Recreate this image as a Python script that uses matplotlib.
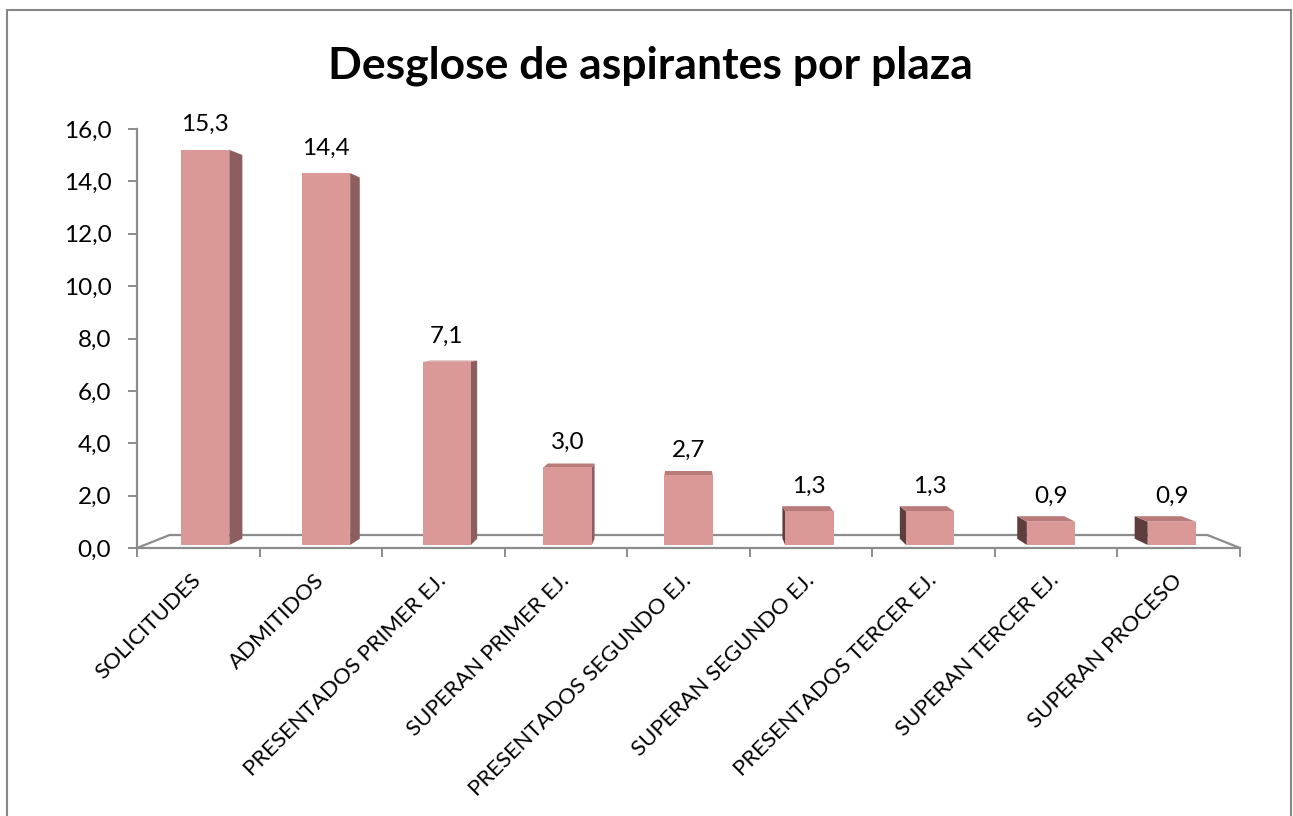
import matplotlib
matplotlib.use('Agg')
import matplotlib.pyplot as plt
from matplotlib.patches import Polygon, Rectangle

plt.rcParams['font.family'] = ['Lato', 'DejaVu Sans']

# datos del grafico
categorias = ['SOLICITUDES', 'ADMITIDOS', 'PRESENTADOS PRIMER EJ.', 'SUPERAN PRIMER EJ.',
              'PRESENTADOS SEGUNDO EJ.', 'SUPERAN SEGUNDO EJ.', 'PRESENTADOS TERCER EJ.',
              'SUPERAN TERCER EJ.', 'SUPERAN PROCESO']
valores = [15.3, 14.4, 7.1, 3.0, 2.7, 1.3, 1.3, 0.9, 0.9]
yticks = [0, 2, 4, 6, 8, 10, 12, 14, 16]

# colores
cara = '#DA9896'
lado_der = '#8C5F5E'
lado_izq = '#5E3E3D'
techo = '#B97B79'
gris = '#8C8C8C'

# perspectiva (punto de fuga en coordenadas de datos)
vx, vy = 4.0, 8.4
s_front = 0.986
s_back = 0.958
s_floor = 0.941
ancho = 0.40


def proy(x, y, s):
    # proyectar un punto hacia el punto de fuga
    return vx + s * (x - vx), vy + s * (y - vy)


fig = plt.figure(figsize=(12.93, 8.16), dpi=100)
ax = fig.add_axes([137 / 1293, 268 / 816, 1103 / 1293, 419 / 816])
ax.set_xlim(-0.5, len(categorias) - 0.5)
ax.set_ylim(0, 16)

# suelo
xa, xb = -0.5, len(categorias) - 0.5
bl = proy(xa, 0, s_floor)
br = proy(xb, 0, s_floor)
ax.plot([xa, bl[0], br[0], xb], [0, bl[1], br[1], 0], color=gris, lw=1.6, zorder=1,
        clip_on=False, solid_joinstyle='miter')

# barras
for i, v in enumerate(valores):
    x0, x1 = i - ancho / 2, i + ancho / 2
    f0 = proy(x0, 0, s_front)
    f1 = proy(x1, v, s_front)
    b0 = proy(x0, 0, s_back)
    b1 = proy(x1, v, s_back)
    # lado visible
    if f1[0] < vx - 1e-6:
        pts = [(f1[0], f0[1]), (f1[0], f1[1]), (b1[0], b1[1]), (b1[0], b0[1])]
        ax.add_patch(Polygon(pts, closed=True, fc=lado_der, ec='none', zorder=2))
    elif f0[0] > vx + 1e-6:
        pts = [(f0[0], f0[1]), (f0[0], f1[1]), (b0[0], b1[1]), (b0[0], b0[1])]
        ax.add_patch(Polygon(pts, closed=True, fc=lado_izq, ec='none', zorder=2))
    # techo
    if v < vy:
        pts = [(f0[0], f1[1]), (f1[0], f1[1]), (b1[0], b1[1]), (b0[0], b1[1])]
        ax.add_patch(Polygon(pts, closed=True, fc=techo, ec='none', zorder=2))
    ax.bar((f0[0] + f1[0]) / 2, f1[1] - f0[1], width=f1[0] - f0[0], bottom=f0[1],
           color=cara, edgecolor='none', zorder=3)
    ax.annotate(f'{v:.1f}'.replace('.', ','), xy=((f0[0] + f1[0]) / 2, f1[1]),
                xytext=(0, 13.5), textcoords='offset points', ha='center', va='baseline',
                fontsize=17.5, color='black', zorder=4)

# ejes
for lado in ['top', 'right']:
    ax.spines[lado].set_visible(False)
ax.spines['left'].set_color(gris)
ax.spines['bottom'].set_color(gris)
ax.spines['left'].set_linewidth(1.6)
ax.spines['bottom'].set_linewidth(1.6)
ax.set_yticks(yticks)
ax.set_yticklabels([f'{t:.1f}'.replace('.', ',') for t in yticks])
ax.tick_params(axis='y', length=6.5, width=1.4, color=gris, pad=12, labelsize=17.5)
ax.set_xticks(range(len(categorias)))
ax.set_xticks([i - 0.5 for i in range(len(categorias) + 1)], minor=True)
ax.set_xticklabels(categorias, rotation=45, ha='right', rotation_mode='anchor', va='center')
ax.tick_params(axis='x', which='major', length=0, pad=21, labelsize=16)
ax.tick_params(axis='x', which='minor', length=6.5, width=1.4, color=gris)
ax.set_facecolor('none')

# titulo
fig.text(0.5027, 1 - 79 / 816, 'Desglose de aspirantes por plaza', ha='center', va='baseline',
         fontsize=32, fontweight='bold')

# marco
fig.patches.append(Rectangle((7 / 1293, -0.02), 1284 / 1293, 806 / 816 + 0.02,
                             transform=fig.transFigure, fill=False, ec='#878787', lw=1.5))

fig.savefig('out.png', dpi=100)
